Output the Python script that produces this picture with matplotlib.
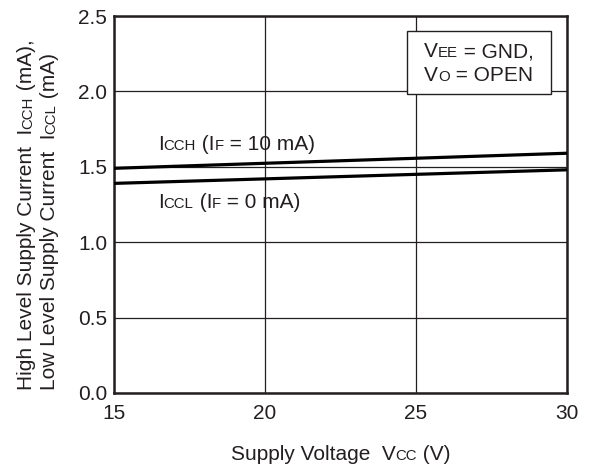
import matplotlib
matplotlib.use("Agg")
import matplotlib.pyplot as plt
from matplotlib.transforms import IdentityTransform

plt.rcParams['font.family'] = ['Liberation Sans', 'DejaVu Sans']

vcc = [15, 30]
icch = [1.49, 1.59]
iccl = [1.39, 1.48]
x_ticks = [15, 20, 25, 30]
y_ticks = [0.0, 0.5, 1.0, 1.5, 2.0, 2.5]
y_tick_labels = ["0.0", "0.5", "1.0", "1.5", "2.0", "2.5"]

TXT = '#231f20'
W, H = 589, 468
BIG, SMALL = 15, 10.8

fig = plt.figure(figsize=(W / 100, H / 100), dpi=100)
ax = fig.add_axes([114 / W, (H - 393) / H, (567 - 114) / W, (393 - 16) / H])

ax.plot(vcc, icch, color='black', lw=2.3, solid_capstyle='butt', zorder=3)
ax.plot(vcc, iccl, color='black', lw=2.3, solid_capstyle='butt', zorder=3)

ax.set_xlim(15, 30)
ax.set_ylim(0, 2.5)
ax.set_xticks(x_ticks)
ax.set_yticks(y_ticks)
ax.set_yticklabels(y_tick_labels)
ax.grid(True, color=TXT, lw=0.9)
ax.tick_params(length=0, labelsize=BIG, colors=TXT)
ax.tick_params(axis='x', pad=8)
ax.tick_params(axis='y', pad=5)
for s in ax.spines.values():
    s.set_linewidth(1.8)
    s.set_color(TXT)

renderer = fig.canvas.get_renderer()


def measure(s, size):
    t1 = fig.text(0, 0, '|' + s + '|', fontsize=size)
    t2 = fig.text(0, 0, '||', fontsize=size)
    w = t1.get_window_extent(renderer).width - t2.get_window_extent(renderer).width
    t1.remove()
    t2.remove()
    return w


def pieces(x_img, y_img, parts, rotation=0, center=False, zorder=3):
    """Draw a run of text pieces (string, size) sharing a baseline.
    x_img, y_img in image pixel coords (origin top-left)."""
    total = sum(measure(s, sz) for s, sz in parts)
    x, y = x_img, H - y_img
    if center:
        if rotation == 0:
            x -= total / 2
        else:
            y -= total / 2
    for s, sz in parts:
        fig.text(x, y, s, fontsize=sz, color=TXT, transform=IdentityTransform(),
                 rotation=rotation, rotation_mode='anchor', ha='left', va='baseline',
                 zorder=zorder)
        w = measure(s, sz)
        if rotation == 0:
            x += w
        else:
            y += w


# x label
pieces(340.5, 460, [("Supply Voltage  V", BIG), ("CC", SMALL), (" (V)", BIG)], center=True)

# y label (two lines)
pieces(32, 390, [("High Level Supply Current  I", BIG), ("CCH", SMALL), (" (mA),", BIG)], rotation=90)
pieces(55, 390, [("Low Level Supply Current  I", BIG), ("CCL", SMALL), (" (mA)", BIG)], rotation=90)

# curve labels
pieces(158, 150, [("I", BIG), ("CCH", SMALL), (" (I", BIG), ("F", SMALL), (" = 10 mA)", BIG)])
pieces(158, 208, [("I", BIG), ("CCL", SMALL), (" (I", BIG), ("F", SMALL), (" = 0 mA)", BIG)])

# condition box
box = plt.Rectangle((407, H - 94), 144, 63, transform=IdentityTransform(),
                    facecolor='white', edgecolor=TXT, lw=1.0, zorder=5)
fig.add_artist(box)
pieces(424, 57, [("V", BIG), ("EE", SMALL), (" = GND,", BIG)], zorder=6)
pieces(424, 81, [("V", BIG), ("O", SMALL), (" = OPEN", BIG)], zorder=6)

fig.savefig("out.png", dpi=100)
